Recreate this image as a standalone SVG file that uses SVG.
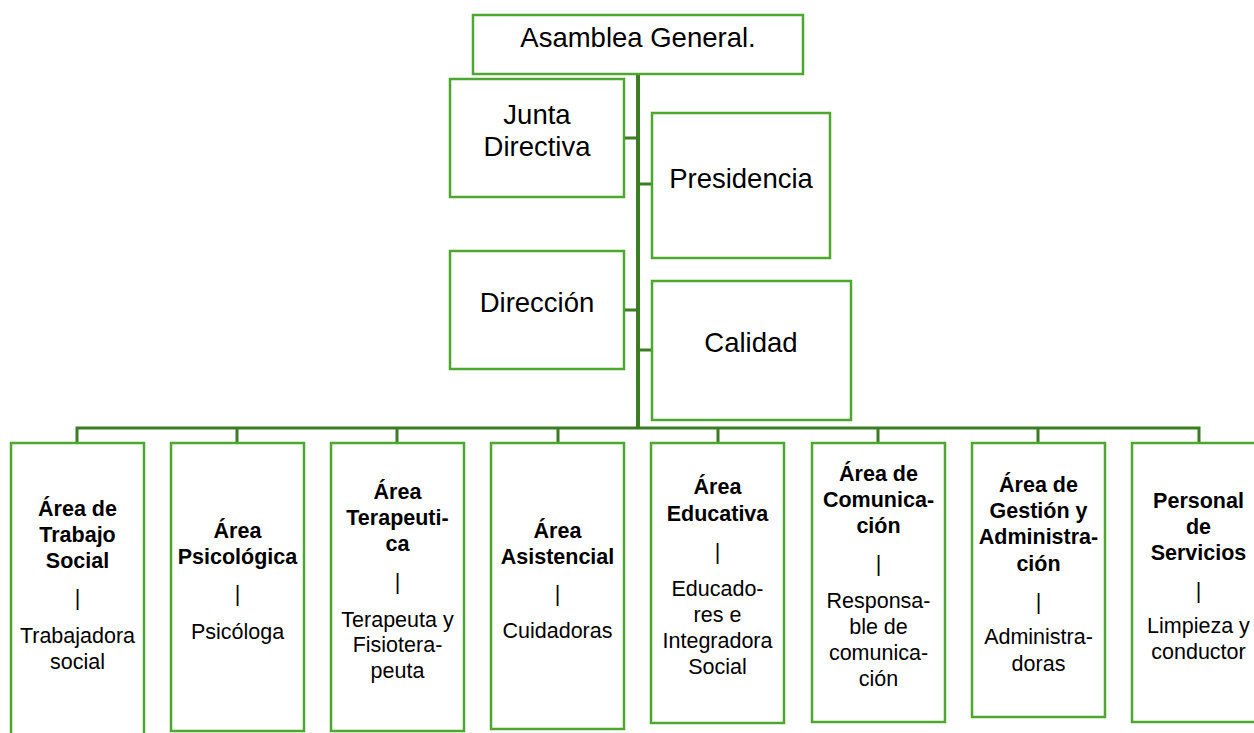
<svg xmlns="http://www.w3.org/2000/svg" width="1254" height="733" viewBox="0 0 1254 733">
<style>
.box{fill:#fff;stroke:#4EA72E;stroke-width:2.5}
.c{fill:none;stroke:#3B7D23;stroke-width:3}
.t{font-family:"Liberation Sans",Arial,sans-serif;fill:#000;text-anchor:middle}
.big{font-size:27.5px}
.b{font-size:21.5px;font-weight:bold}
.r{font-size:21.5px}
</style>
<rect width="1254" height="733" fill="#fff"/>
<g id="connectors">
<path class="c" d="M638 74V428" style="stroke-width:4"/>
<path class="c" d="M77 443V428H1199V443M237 428V443M397 428V443M558 428V443M718 428V443M878 428V443M1038 428V443"/>
<path class="c" d="M624 138H638M638 184H652M624 310H638M638 350H652"/>
</g>
<g id="asamblea"><rect class="box" x="473" y="15" width="330" height="59"/><text class="t big" x="638" y="47">Asamblea General.</text></g>
<g id="junta"><rect class="box" x="450" y="79" width="174" height="118"/><text class="t big" x="537" y="124">Junta</text><text class="t big" x="537" y="156">Directiva</text></g>
<g id="presidencia"><rect class="box" x="652" y="113" width="178" height="145"/><text class="t big" x="741" y="188">Presidencia</text></g>
<g id="direccion"><rect class="box" x="450" y="251" width="174" height="118"/><text class="t big" x="537" y="312">Dirección</text></g>
<g id="calidad"><rect class="box" x="652" y="281" width="199" height="139"/><text class="t big" x="751" y="352">Calidad</text></g>
<g id="trabajo-social"><rect class="box" x="11" y="443" width="133" height="300"/>
<text class="t b" x="77.5" y="516">Área de</text><text class="t b" x="77.5" y="542">Trabajo</text><text class="t b" x="77.5" y="568">Social</text>
<text class="t r" x="77.5" y="605">|</text>
<text class="t r" x="77.5" y="643">Trabajadora</text><text class="t r" x="77.5" y="669">social</text></g>
<g id="psicologica"><rect class="box" x="171" y="443" width="133" height="288"/>
<text class="t b" x="237.5" y="538">Área</text><text class="t b" x="237.5" y="564">Psicológica</text>
<text class="t r" x="237.5" y="601">|</text>
<text class="t r" x="237.5" y="639">Psicóloga</text></g>
<g id="terapeutica"><rect class="box" x="331" y="443" width="133" height="288"/>
<text class="t b" x="397.5" y="499">Área</text><text class="t b" x="397.5" y="525">Terapeuti-</text><text class="t b" x="397.5" y="551">ca</text>
<text class="t r" x="397.5" y="589">|</text>
<text class="t r" x="397.5" y="627">Terapeuta y</text><text class="t r" x="397.5" y="652">Fisiotera-</text><text class="t r" x="397.5" y="678">peuta</text></g>
<g id="asistencial"><rect class="box" x="491" y="443" width="133" height="286"/>
<text class="t b" x="557.5" y="538">Área</text><text class="t b" x="557.5" y="564">Asistencial</text>
<text class="t r" x="557.5" y="601">|</text>
<text class="t r" x="557.5" y="638">Cuidadoras</text></g>
<g id="educativa"><rect class="box" x="651" y="443" width="133" height="280"/>
<text class="t b" x="717.5" y="494">Área</text><text class="t b" x="717.5" y="521">Educativa</text>
<text class="t r" x="717.5" y="559">|</text>
<text class="t r" x="717.5" y="596">Educado-</text><text class="t r" x="717.5" y="622">res e</text><text class="t r" x="717.5" y="648">Integradora</text><text class="t r" x="717.5" y="674">Social</text></g>
<g id="comunicacion"><rect class="box" x="812" y="443" width="133" height="279"/>
<text class="t b" x="878.5" y="481">Área de</text><text class="t b" x="878.5" y="507">Comunica-</text><text class="t b" x="878.5" y="533">ción</text>
<text class="t r" x="878.5" y="571">|</text>
<text class="t r" x="878.5" y="608">Responsa-</text><text class="t r" x="878.5" y="634">ble de</text><text class="t r" x="878.5" y="660">comunica-</text><text class="t r" x="878.5" y="686">ción</text></g>
<g id="gestion"><rect class="box" x="972" y="443" width="133" height="274"/>
<text class="t b" x="1038.5" y="492">Área de</text><text class="t b" x="1038.5" y="518">Gestión y</text><text class="t b" x="1038.5" y="544">Administra-</text><text class="t b" x="1038.5" y="571">ción</text>
<text class="t r" x="1038.5" y="609">|</text>
<text class="t r" x="1038.5" y="644">Administra-</text><text class="t r" x="1038.5" y="671">doras</text></g>
<g id="servicios"><rect class="box" x="1132" y="443" width="133" height="279"/>
<text class="t b" x="1198.5" y="508">Personal</text><text class="t b" x="1198.5" y="534">de</text><text class="t b" x="1198.5" y="560">Servicios</text>
<text class="t r" x="1198.5" y="598">|</text>
<text class="t r" x="1198.5" y="633">Limpieza y</text><text class="t r" x="1198.5" y="659">conductor</text></g>
</svg>
